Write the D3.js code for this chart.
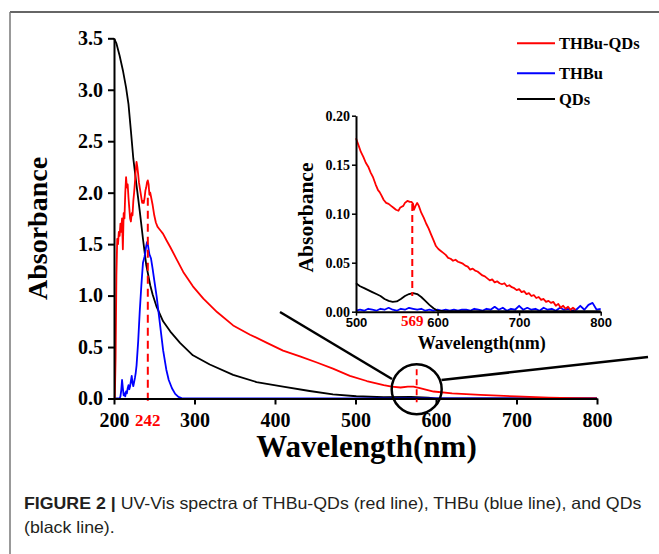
<!DOCTYPE html>
<html>
<head>
<meta charset="utf-8">
<script src="https://cdn.jsdelivr.net/npm/d3@7"></script>
<style>
  body { margin: 0; background: #fff; }
  svg { display: block; }
</style>
</head>
<body>
<svg id="uvvis" width="659" height="554"></svg>
<script>
/* UV-Vis spectra of THBu-QDs / THBu / QDs, with zoomed inset 500-800 nm. */

// ---- data ----
// main panel, wavelength (nm) / absorbance
const qdsWl  = [200, 203, 207, 211, 215, 218, 221, 224, 228, 232, 236, 240, 245, 248, 253, 261, 270, 282, 298, 319, 348, 377, 410, 443, 472, 501, 535, 569, 590, 600, 650, 700, 800];
const qdsAbs = [3.50, 3.45, 3.33, 3.19, 3.02, 2.86, 2.60, 2.33, 2.07, 1.82, 1.55, 1.30, 1.10, 1.01, 0.89, 0.75, 0.65, 0.54, 0.42, 0.33, 0.23, 0.16, 0.115, 0.073, 0.041, 0.022, 0.012, 0.016, 0.008, 0.002, 0.001, 0.001, 0.0];

const thbuQdsWl  = [201, 202, 203, 204, 205, 206, 207, 208, 209, 210, 211, 212, 213, 214, 215, 216, 217, 218, 219, 220, 221, 222, 223, 224, 225, 226, 227, 228, 229, 230, 231, 232, 233, 234, 235, 236, 237, 238, 239, 240, 241, 242, 243, 244, 245, 246, 248, 250, 252, 254, 256, 258, 261, 265, 270, 278, 286, 298, 311, 328, 348, 369, 390, 410, 431, 452, 472, 493, 514, 535, 545, 556, 565, 572, 580, 597, 620, 655, 700, 740, 770, 800];
const thbuQdsAbs = [0.0, 0.4, 1.2, 1.55, 1.50, 1.62, 1.58, 1.70, 1.62, 1.75, 1.45, 1.80, 1.75, 2.00, 2.15, 2.05, 2.08, 1.95, 1.85, 1.75, 1.72, 1.80, 1.78, 1.92, 2.00, 2.10, 2.22, 2.30, 2.25, 2.18, 2.10, 2.05, 2.00, 1.95, 1.90, 1.92, 1.90, 1.95, 2.02, 2.05, 2.10, 2.12, 2.08, 1.98, 2.00, 1.96, 1.88, 1.78, 1.71, 1.67, 1.65, 1.63, 1.60, 1.54, 1.47, 1.35, 1.23, 1.09, 0.97, 0.84, 0.71, 0.62, 0.54, 0.465, 0.41, 0.35, 0.29, 0.22, 0.17, 0.13, 0.115, 0.107, 0.115, 0.115, 0.10, 0.068, 0.05, 0.036, 0.02, 0.008, 0.003, 0.001];

const thbuWl  = [200, 207, 208, 209, 210, 211, 212, 213, 214, 215, 216, 217, 218, 219, 220, 221, 222, 223, 224, 225, 226, 227, 228, 230, 232, 234, 236, 238, 240, 241, 242, 243, 244, 246, 248, 250, 253, 257, 261, 265, 268, 272, 276, 280, 284, 288, 400, 600, 800];
const thbuAbs = [0.0, 0.0, 0.02, 0.08, 0.18, 0.10, 0.03, 0.05, 0.02, 0.07, 0.05, 0.10, 0.13, 0.09, 0.12, 0.17, 0.22, 0.15, 0.12, 0.16, 0.20, 0.25, 0.32, 0.55, 0.85, 1.10, 1.32, 1.38, 1.48, 1.52, 1.50, 1.45, 1.40, 1.36, 1.26, 1.15, 0.99, 0.73, 0.47, 0.28, 0.18, 0.10, 0.045, 0.015, 0.003, 0.0, 0.002, 0.002, 0.002];

// inset, 500-800 nm
const insetRedWl  = [500, 503, 506, 509, 512, 515, 518, 521, 524, 527, 529, 531, 534, 537, 540, 543, 546, 549, 552, 554, 556, 558, 560, 563, 566, 568, 570, 571, 573, 575, 577, 580, 583, 586, 589, 592, 595, 598, 601, 604, 607, 610, 613, 616, 619, 622, 625, 628, 631, 634, 637, 640, 643, 646, 649, 652, 655, 658, 661, 664, 667, 670, 673, 676, 679, 682, 685, 688, 691, 694, 697, 700, 703, 706, 709, 712, 715, 718, 721, 724, 727, 730, 733, 736, 739, 742, 745, 748, 751, 754, 757, 760, 763, 766, 769];
const insetRedAbs = [0.177, 0.170, 0.163, 0.158, 0.152, 0.148, 0.142, 0.137, 0.130, 0.124, 0.122, 0.119, 0.114, 0.111, 0.110, 0.108, 0.106, 0.104, 0.103, 0.106, 0.107, 0.108, 0.111, 0.113, 0.112, 0.112, 0.110, 0.104, 0.108, 0.111, 0.108, 0.101, 0.096, 0.090, 0.085, 0.079, 0.073, 0.067, 0.064, 0.062, 0.060, 0.058, 0.055, 0.054, 0.052, 0.053, 0.051, 0.050, 0.049, 0.047, 0.046, 0.043, 0.044, 0.042, 0.041, 0.039, 0.037, 0.036, 0.034, 0.032, 0.033, 0.030, 0.031, 0.029, 0.028, 0.029, 0.026, 0.027, 0.025, 0.024, 0.022, 0.023, 0.020, 0.021, 0.018, 0.019, 0.016, 0.017, 0.014, 0.015, 0.012, 0.013, 0.010, 0.011, 0.009, 0.010, 0.006, 0.008, 0.004, 0.006, 0.003, 0.005, 0.002, 0.004, 0.002];

const insetBlackWl  = [500, 505, 510, 515, 520, 525, 530, 535, 540, 545, 550, 555, 560, 565, 570, 575, 580, 585, 590, 595, 600, 610, 650, 700, 750, 800];
const insetBlackAbs = [0.029, 0.026, 0.024, 0.022, 0.020, 0.018, 0.016, 0.013, 0.011, 0.010, 0.0105, 0.013, 0.016, 0.018, 0.019, 0.018, 0.015, 0.011, 0.007, 0.0035, 0.001, 0.0005, 0.0005, 0.0005, 0.0005, 0.0005];

const insetBlueWl  = [500, 505, 510, 515, 520, 525, 530, 535, 540, 545, 550, 555, 560, 565, 570, 575, 580, 585, 590, 595, 600, 605, 610, 615, 620, 625, 630, 635, 640, 645, 650, 655, 660, 665, 670, 675, 680, 685, 690, 695, 700, 705, 710, 715, 720, 725, 730, 735, 740, 745, 750, 755, 760, 765, 770, 775, 780, 785, 790, 795, 800];
const insetBlueAbs = [0.001, 0.002, 0.001, 0.003, 0.002, 0.001, 0.003, 0.002, 0.004, 0.002, 0.001, 0.003, 0.002, 0.004, 0.003, 0.002, 0.003, 0.001, 0.002, 0.001, 0.002, 0.001, 0.002, 0.001, 0.002, 0.001, 0.002, 0.002, 0.001, 0.003, 0.002, 0.001, 0.003, 0.002, 0.005, 0.002, 0.004, 0.001, 0.003, 0.002, 0.006, 0.002, 0.004, 0.002, 0.003, 0.001, 0.004, 0.002, 0.003, 0.001, 0.004, 0.002, 0.003, 0.001, 0.002, 0.006, 0.002, 0.007, 0.009, 0.002, 0.003];

const mainXTicks = [200, 300, 400, 500, 600, 700, 800];
const mainYTicks = [0, 0.5, 1.0, 1.5, 2.0, 2.5, 3.0, 3.5];
const insetXTicks = [500, 600, 700, 800];
const insetYTicks = [0, 0.05, 0.10, 0.15, 0.20];

const legendNames = ["THBu-QDs", "THBu", "QDs"];
const legendColors = ["#ff0000", "#0000ff", "#000000"];

const peakMain = 242, peakMainAbs = 1.95;
const peakInset = 569, peakInsetTop = 0.110, peakInsetBottom = 0.016;
const zoomSpot = [576, 0.09];

// ---- layout ----
const SERIF = "'Liberation Serif', 'Times New Roman', serif";
const SANS = "'Liberation Sans', Arial, sans-serif";
const svg = d3.select("#uvvis");

svg.append("rect").attr("width", 659).attr("height", 554).attr("fill", "#fff");
// panel frame (top + left edges only are visible)
svg.append("line").attr("x1", 10).attr("y1", 12).attr("x2", 659).attr("y2", 12)
    .attr("stroke", "#333").attr("stroke-width", 1.5);
svg.append("line").attr("x1", 10).attr("y1", 12).attr("x2", 10).attr("y2", 554)
    .attr("stroke", "#777").attr("stroke-width", 1.5);

const x = d3.scaleLinear().domain([200, 800]).range([114, 597]);
const y = d3.scaleLinear().domain([0, 3.5]).range([398.5, 38.3]);

const xi = d3.scaleLinear().domain([500, 800]).range([356, 600.7]);
const yi = d3.scaleLinear().domain([0, 0.2]).range([311.7, 115.7]);

function zip(a, b) { return a.map((v, i) => [v, b[i]]); }

// ---- main curves ----
const lineMain = d3.line().x(d => x(d[0])).y(d => y(d[1]));
const gMain = svg.append("g");
[[qdsWl, qdsAbs, "#000"], [thbuWl, thbuAbs, "#0000ff"], [thbuQdsWl, thbuQdsAbs, "#ff0000"]].forEach(s => {
    gMain.append("path").datum(zip(s[0], s[1]))
        .attr("d", lineMain).attr("fill", "none")
        .attr("stroke", s[2]).attr("stroke-width", 1.8).attr("stroke-linejoin", "round");
});

// 242 nm marker
gMain.append("line")
    .attr("x1", x(peakMain)).attr("x2", x(peakMain))
    .attr("y1", y(peakMainAbs)).attr("y2", y(0) + 3)
    .attr("stroke", "#ff0000").attr("stroke-width", 2).attr("stroke-dasharray", "8,5");

// main axes
const axMainX = svg.append("g").attr("transform", `translate(0,${y(0)})`)
    .call(d3.axisBottom(x).tickValues(mainXTicks).tickSize(6).tickPadding(8).tickSizeOuter(0));
const axMainY = svg.append("g").attr("transform", `translate(${x(200)},0)`)
    .call(d3.axisLeft(y).tickValues(mainYTicks).tickSize(6).tickPadding(5).tickSizeOuter(0).tickFormat(d3.format(".1f")));
[axMainX, axMainY].forEach(ax => {
    ax.select(".domain").attr("stroke", "#000").attr("stroke-width", 2);
    ax.selectAll(".tick line").attr("stroke", "#000").attr("stroke-width", 2);
    ax.selectAll(".tick text").attr("font-family", SERIF).attr("font-weight", "bold")
        .attr("font-size", 20).attr("fill", "#000");
});

svg.append("text")
    .attr("x", x(peakMain)).attr("y", 426)
    .attr("text-anchor", "middle").attr("font-family", SERIF).attr("font-weight", "bold")
    .attr("font-size", 17).attr("fill", "#ff0000").text("242");

svg.append("text")
    .attr("x", 366.5).attr("y", 457)
    .attr("text-anchor", "middle").attr("font-family", SERIF).attr("font-weight", "bold")
    .attr("font-size", 31).text("Wavelength(nm)");
svg.append("text")
    .attr("transform", "translate(47,228.5) rotate(-90)")
    .attr("text-anchor", "middle").attr("font-family", SERIF).attr("font-weight", "bold")
    .attr("font-size", 28).text("Absorbance");

// ---- magnifier ----
const cx = x(zoomSpot[0]), cy = y(zoomSpot[1]);
svg.append("circle").attr("cx", cx).attr("cy", cy).attr("r", 25)
    .attr("fill", "none").attr("stroke", "#000").attr("stroke-width", 2.5);
svg.append("line").attr("x1", cx).attr("x2", cx).attr("y1", cy - 20).attr("y2", cy + 13)
    .attr("stroke", "#ff0000").attr("stroke-width", 1.8).attr("stroke-dasharray", "6,4");
svg.append("line").attr("x1", 280).attr("y1", 312).attr("x2", 392).attr("y2", 379)
    .attr("stroke", "#000").attr("stroke-width", 2.5);
svg.append("line").attr("x1", 441.5).attr("y1", 380).attr("x2", 648).attr("y2", 357)
    .attr("stroke", "#000").attr("stroke-width", 2.5);

// ---- inset ----
const lineInset = d3.line().x(d => xi(d[0])).y(d => yi(d[1]));
const gIn = svg.append("g");
[[insetBlueWl, insetBlueAbs, "#0000ff"], [insetBlackWl, insetBlackAbs, "#000"], [insetRedWl, insetRedAbs, "#ff0000"]].forEach(s => {
    gIn.append("path").datum(zip(s[0], s[1]))
        .attr("d", lineInset).attr("fill", "none")
        .attr("stroke", s[2]).attr("stroke-width", 1.8).attr("stroke-linejoin", "round");
});
gIn.append("line")
    .attr("x1", xi(peakInset)).attr("x2", xi(peakInset))
    .attr("y1", yi(peakInsetTop)).attr("y2", yi(peakInsetBottom))
    .attr("stroke", "#ff0000").attr("stroke-width", 2).attr("stroke-dasharray", "7,4");

const axInX = svg.append("g").attr("transform", `translate(0,${yi(0)})`)
    .call(d3.axisBottom(xi).tickValues(insetXTicks).tickSize(4).tickPadding(2).tickSizeOuter(0));
const axInY = svg.append("g").attr("transform", `translate(${xi(500)},0)`)
    .call(d3.axisLeft(yi).tickValues(insetYTicks).tickSize(4).tickPadding(2).tickSizeOuter(0).tickFormat(d3.format(".2f")));
[axInX, axInY].forEach(ax => {
    ax.select(".domain").attr("stroke", "#000").attr("stroke-width", 2);
    ax.selectAll(".tick line").attr("stroke", "#000").attr("stroke-width", 1.5);
});
axInX.selectAll(".tick text").attr("font-family", SANS).attr("font-weight", "bold")
    .attr("font-size", 13).attr("fill", "#000");
axInY.selectAll(".tick text").attr("font-family", SERIF).attr("font-weight", "bold")
    .attr("font-size", 14).attr("fill", "#000");

svg.append("text")
    .attr("x", xi(peakInset)).attr("y", 326)
    .attr("text-anchor", "middle").attr("font-family", SERIF).attr("font-weight", "bold")
    .attr("font-size", 15).attr("fill", "#ff0000").text("569");
svg.append("text")
    .attr("x", 481.7).attr("y", 349)
    .attr("text-anchor", "middle").attr("font-family", SERIF).attr("font-weight", "bold")
    .attr("font-size", 18).text("Wavelength(nm)");
svg.append("text")
    .attr("transform", "translate(313,217.5) rotate(-90)")
    .attr("text-anchor", "middle").attr("font-family", SERIF).attr("font-weight", "bold")
    .attr("font-size", 21.5).text("Absorbance");

// ---- legend ----
const legendY = [43.3, 73.3, 99];
legendNames.forEach((name, i) => {
    svg.append("line").attr("x1", 517).attr("x2", 555)
        .attr("y1", legendY[i]).attr("y2", legendY[i])
        .attr("stroke", legendColors[i]).attr("stroke-width", 2);
    svg.append("text").attr("x", 559).attr("y", legendY[i]).attr("dy", "0.35em")
        .attr("font-family", SERIF).attr("font-weight", "bold").attr("font-size", 16.5)
        .text(name);
});

// ---- caption ----
const capX = 24;
const cap1 = svg.append("text").attr("x", capX).attr("y", 509.5)
    .attr("font-family", SANS).attr("font-size", 16.5).attr("fill", "#231f20");
cap1.append("tspan").attr("font-weight", "bold").text("FIGURE 2 | ");
cap1.append("tspan").text("UV-Vis spectra of THBu-QDs (red line), THBu (blue line), and QDs");
const cap2 = svg.append("text").attr("x", capX).attr("y", 533)
    .attr("font-family", SANS).attr("font-size", 16.5).attr("fill", "#231f20")
    .text("(black line).");
// the caption face is slightly condensed; fit to the measured line width
const k = 618 / cap1.node().getComputedTextLength();
cap1.attr("transform", `translate(${capX * (1 - k)},0) scale(${k},1)`);
cap2.attr("transform", `translate(${capX * (1 - k)},0) scale(${k},1)`);
</script>
</body>
</html>
